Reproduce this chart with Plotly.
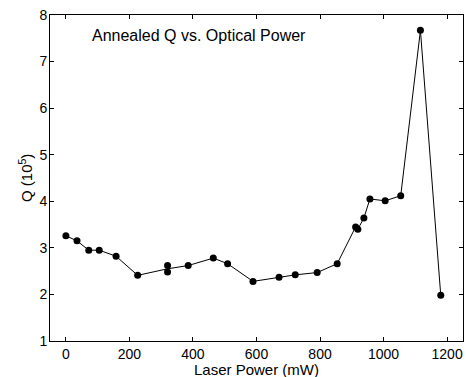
import plotly.graph_objects as go
import pandas as pd

# Data
laser_power_mw = [0, 35, 72, 105, 158, 226, 320, 320, 385, 464, 509, 589,
                  671, 722, 791, 854, 912, 919, 938, 957, 1005, 1054, 1116, 1180]
q_1e5 = [3.26, 3.15, 2.95, 2.95, 2.82, 2.41, 2.62, 2.48, 2.62, 2.78, 2.66, 2.28,
         2.37, 2.42, 2.47, 2.66, 3.45, 3.40, 3.64, 4.05, 4.01, 4.12, 7.67, 1.98]
x_ticks = [0, 200, 400, 600, 800, 1000, 1200]
y_ticks = [1, 2, 3, 4, 5, 6, 7, 8]
title_text = "Annealed Q vs. Optical Power"
x_title = "Laser Power (mW)"
y_title = "Q (10<sup>5</sup>)"

df = pd.DataFrame({"p": laser_power_mw, "q": q_1e5})
line_df = df.groupby("p", as_index=False)["q"].mean()

FONT = "Liberation Sans, Arial, Helvetica, sans-serif"

fig = go.Figure()
fig.add_trace(go.Scatter(x=line_df["p"], y=line_df["q"], mode="lines",
                         line=dict(color="black", width=1), showlegend=False,
                         hoverinfo="skip"))
fig.add_trace(go.Scatter(x=df["p"], y=df["q"], mode="markers",
                         marker=dict(color="black", size=7), showlegend=False))

fig.add_annotation(x=76, y=7.57, xref="x", yref="y", text=title_text,
                   showarrow=False, xanchor="left", yanchor="middle",
                   font=dict(family=FONT, size=16, color="black"))
# axis titles
fig.add_annotation(x=0.5, y=0, xref="paper", yref="paper", text=x_title,
                   showarrow=False, xanchor="center", yanchor="middle", yshift=-28,
                   font=dict(family=FONT, size=15, color="black"))
fig.add_annotation(x=0, y=0.5, xref="paper", yref="paper", text=y_title,
                   showarrow=False, xanchor="center", yanchor="middle", xshift=-25,
                   textangle=-90,
                   font=dict(family=FONT, size=15, color="black"))

axis_common = dict(showgrid=False, zeroline=False, showline=True, linecolor="black",
                   linewidth=1, mirror="ticks", ticks="inside", ticklen=4,
                   tickcolor="black", automargin=False, ticklabeloverflow="allow",
                   tickfont=dict(family=FONT, size=14, color="black"))

fig.update_xaxes(range=[-50, 1250], tickvals=x_ticks, ticklabelstandoff=0,
                 **axis_common)
fig.update_yaxes(range=[1, 8], tickvals=y_ticks, ticklabelstandoff=-1,
                 **axis_common)

fig.update_layout(width=466, height=377, margin=dict(l=50, r=3, t=15, b=36),
                  paper_bgcolor="white", plot_bgcolor="white",
                  font=dict(family=FONT, color="black"))

fig.write_html("out.html", config={"displayModeBar": False},
               post_script="document.body.style.margin='0';"
                           "document.body.style.overflow='hidden';")
